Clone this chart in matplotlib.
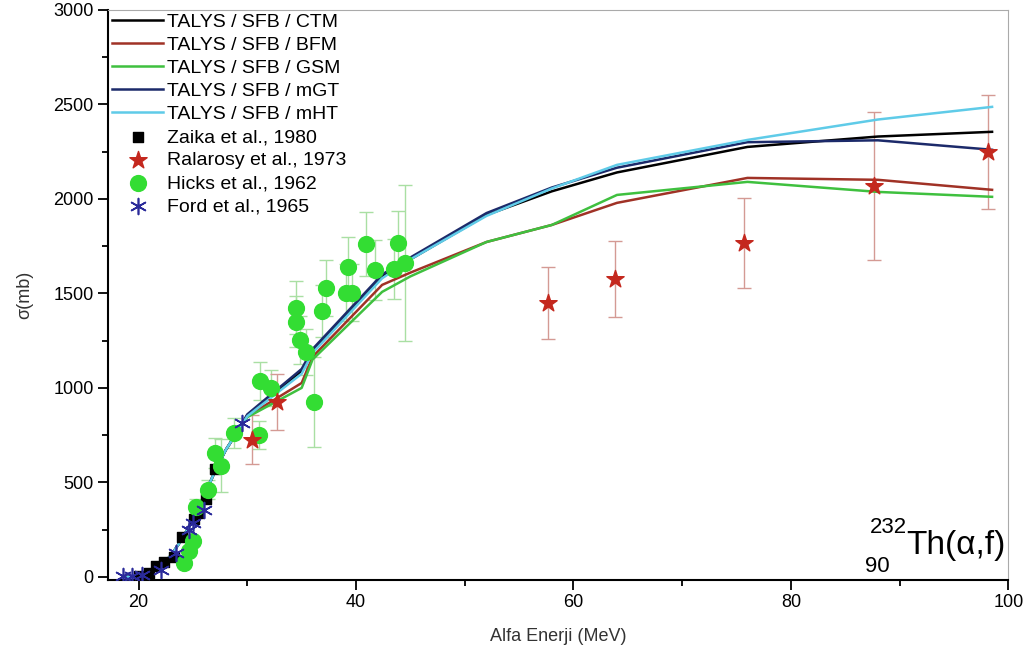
import numpy as np
import matplotlib
matplotlib.use("Agg")
import matplotlib.pyplot as plt
from matplotlib.ticker import MultipleLocator

plt.rcParams['font.family'] = ['Liberation Sans', 'DejaVu Sans']

# TALYS calculations (energy grid + cross sections)
E_talys = [19, 20, 21, 22, 23, 24, 25, 26, 27, 28, 29, 30, 35, 36, 42.4, 45, 52, 58, 64, 76, 88, 98.5]
ctm = [0, 4, 18, 55, 115, 200, 305, 425, 555, 670, 760, 855, 1090, 1195, 1590, 1680, 1915, 2040, 2140, 2275, 2330, 2355]
bfm = [0, 4, 18, 55, 115, 200, 305, 425, 555, 670, 760, 850, 1026, 1164, 1545, 1610, 1772, 1862, 1979, 2111, 2101, 2048]
gsm = [0, 4, 18, 55, 115, 200, 305, 425, 555, 670, 760, 845, 1000, 1150, 1508, 1590, 1772, 1862, 2021, 2090, 2037, 2011]
mgt = [0, 4, 18, 55, 115, 200, 305, 425, 555, 670, 760, 860, 1100, 1205, 1600, 1690, 1925, 2060, 2165, 2300, 2310, 2260]
mht = [0, 4, 18, 55, 115, 200, 305, 425, 555, 670, 760, 850, 1075, 1185, 1580, 1680, 1910, 2055, 2180, 2312, 2420, 2487]

# experimental data
zaika_E = [20.0, 21.0, 21.6, 22.3, 23.3, 24.0, 25.1, 25.5, 26.2, 27.0]
zaika_s = [3, 20, 55, 80, 105, 210, 305, 340, 410, 572]

ral_E = [30.4, 32.7, 57.7, 63.8, 75.7, 87.6, 98.1]
ral_s = [725, 926, 1450, 1577, 1767, 2069, 2249]
ral_err = [130, 150, 190, 200, 240, 390, 300]

hicks_E = [24.2, 24.6, 25.0, 25.3, 26.4, 27.0, 27.6, 28.8, 31.1, 31.2, 32.2, 34.5, 34.5, 34.8, 35.4,
           36.1, 36.9, 37.2, 39.1, 39.3, 39.6, 40.9, 41.7, 43.5, 43.9, 44.5]
hicks_s = [74, 137, 190, 370, 460, 656, 587, 761, 751, 1037, 1000, 1423, 1349, 1254, 1190,
           926, 1407, 1529, 1503, 1640, 1503, 1762, 1624, 1630, 1767, 1661]
hicks_err = [10, 15, 20, 40, 50, 80, 140, 80, 75, 100, 95, 140, 135, 125, 120,
             240, 140, 150, 150, 160, 150, 170, 160, 160, 170, 415]

ford_E = [18.6, 19.4, 20.3, 22.1, 23.4, 24.6, 25.0, 26.0, 29.5]
ford_s = [5, 5, 12, 37, 127, 250, 285, 354, 815]

fig = plt.figure(figsize=(10.30, 6.61), dpi=100)
ax = fig.add_axes([0.105, 0.123, 0.874, 0.862])

ax.plot(E_talys, ctm, color='black', lw=1.8, label='TALYS / SFB / CTM', zorder=3)
ax.plot(E_talys, bfm, color='#a03226', lw=1.8, label='TALYS / SFB / BFM', zorder=3)
ax.plot(E_talys, gsm, color='#3fc03f', lw=1.8, label='TALYS / SFB / GSM', zorder=3)
ax.plot(E_talys, mgt, color='#1c2a6a', lw=1.8, label='TALYS / SFB / mGT', zorder=3)
ax.plot(E_talys, mht, color='#5fcbe8', lw=1.8, label='TALYS / SFB / mHT', zorder=3)

# error bars first (no legend)
ax.errorbar(hicks_E, hicks_s, yerr=hicks_err, fmt='none', ecolor='#a9dfa3', elinewidth=1, capsize=5, zorder=2)
ax.errorbar(ral_E, ral_s, yerr=ral_err, fmt='none', ecolor='#d49a94', elinewidth=1, capsize=5, zorder=2)

ax.scatter(zaika_E, zaika_s, marker='s', s=60, color='black', label='Zaika et al., 1980', zorder=4)
ax.scatter(ral_E, ral_s, marker='*', s=170, color='#c4281e', label='Ralarosy et al., 1973', zorder=5)
ax.scatter(hicks_E, hicks_s, marker='o', s=130, color='#33dd33', label='Hicks et al., 1962', zorder=4)
ax.scatter(ford_E, ford_s, marker=(6, 2, 0), s=130, color='#2a2a9a', linewidths=1.2,
           label='Ford et al., 1965', zorder=6)

ax.set_xlim(17.2, 100)
ax.set_ylim(-15, 3000)
ax.xaxis.set_major_locator(MultipleLocator(20))
ax.xaxis.set_minor_locator(MultipleLocator(10))
ax.yaxis.set_major_locator(MultipleLocator(500))
ax.yaxis.set_minor_locator(MultipleLocator(250))
ax.tick_params(which='major', direction='out', length=7, width=1.3, labelsize=13)
ax.tick_params(which='minor', direction='out', length=4, width=1.3)

for side in ['left', 'bottom']:
    ax.spines[side].set_linewidth(1.5)
for side in ['right', 'top']:
    ax.spines[side].set_color('#aaaaaa')
    ax.spines[side].set_linewidth(0.8)

ax.set_xlabel('Alfa Enerji (MeV)', fontsize=13, color='#333333', labelpad=12)
ax.set_ylabel('σ(mb)', fontsize=13, color='#333333', labelpad=14)

ax.legend(loc='upper left', frameon=False, fontsize=14, handlelength=2.6, handletextpad=0.2,
          labelspacing=0.28, borderaxespad=0.0, bbox_to_anchor=(-0.004, 1.008))

ax.text(0.887, 0.045, 'Th(α,f)', transform=ax.transAxes, fontsize=24, ha='left', va='baseline')
ax.text(0.887, 0.082, '232', transform=ax.transAxes, fontsize=16, ha='right', va='baseline')
ax.text(0.868, 0.013, '90', transform=ax.transAxes, fontsize=16, ha='right', va='baseline')

fig.savefig('out.png', dpi=100)
